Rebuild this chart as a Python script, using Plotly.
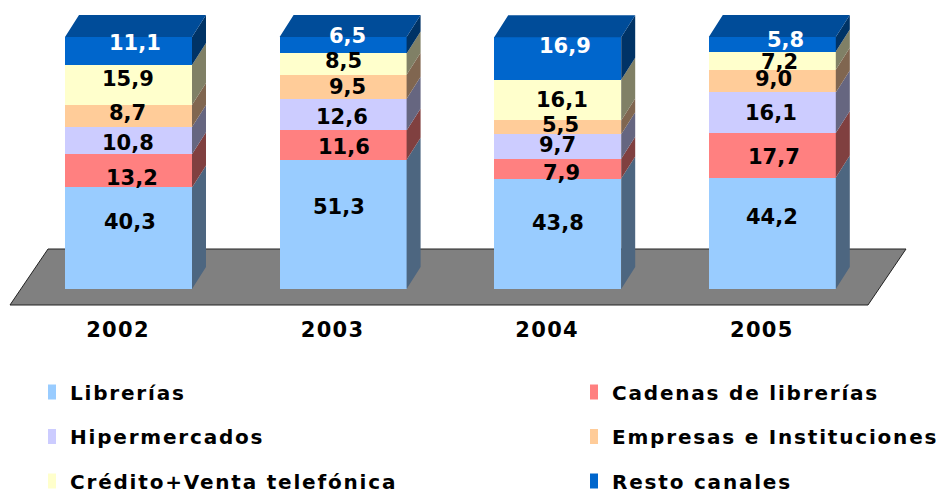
import plotly.graph_objects as go

# ---- data ----
years = ["2002", "2003", "2004", "2005"]
series_names = ["Librerías", "Cadenas de librerías", "Hipermercados",
                "Empresas e Instituciones", "Crédito+Venta telefónica", "Resto canales"]
librerias = [40.3, 51.3, 43.8, 44.2]
cadenas = [13.2, 11.6, 7.9, 17.7]
hipermercados = [10.8, 12.6, 9.7, 16.1]
empresas = [8.7, 9.5, 5.5, 9.0]
credito = [15.9, 8.5, 16.1, 7.2]
resto = [11.1, 6.5, 16.9, 5.8]
all_values = [librerias, cadenas, hipermercados, empresas, credito, resto]

# ---- styles ----
front = ["#99CCFF", "#FF8080", "#CCCCFF", "#FFCC99", "#FFFFCC", "#0066CC"]
side = ["#4D6680", "#804040", "#666680", "#806650", "#808066", "#003366"]
top_color = "#004C99"
label_colors = ["black"] * 5 + ["white"]
FONT = "DejaVu Sans"
TEXT_SIZE = 21
LEGEND_SIZE = 20

# ---- layout geometry (pixels) ----
W, H = 943, 491
PLOT_BOTTOM = 307
BASE_PX = 289
PX_PER_UNIT_Y = 2.52
PX_PER_UNIT_X = 214.6
FIRST_CENTER_PX = 128.5
BAR_W = 127 / PX_PER_UNIT_X
DX = 14 / PX_PER_UNIT_X
DY = 22 / PX_PER_UNIT_Y
TICK_SHIFT = 10.5 / PX_PER_UNIT_X


def px_x(px):
    return (px - FIRST_CENTER_PX) / PX_PER_UNIT_X


def px_y(px):
    return (BASE_PX - px) / PX_PER_UNIT_Y


# hand-placed label nudges in pixels [series][year]
nudge_x = [[1, -4, 0.5, 0], [3.5, 1, 4, 1.5], [-0.5, -1, 0, -1.5],
           [-1.5, 4, 2.5, 1.5], [-0.5, 0, 4, 7], [6.5, 4, 7, 13]]
nudge_y = [[-16, -17, -11, -16], [7, 2, 4, 2], [2, 2, -1.5, 0],
           [-3, 0, -2, -2], [-6, -3, 0, 1], [-8, -9, -12.5, -4]]

xpos = list(range(len(years)))
fig = go.Figure()

legend_of = ["legend", "legend2", "legend", "legend2", "legend", "legend2"]
for k, vals in enumerate(all_values):
    fig.add_trace(go.Bar(x=xpos, y=vals, name=series_names[k], width=BAR_W,
                         marker=dict(color=front[k], line=dict(width=0)),
                         legend=legend_of[k], legendgroup=series_names[k],
                         hoverinfo="name+y"))

# 3D side faces and caps, derived from the stacked values
cum = [0.0] * len(years)
annotations = []
for k, vals in enumerate(all_values):
    sx, sy = [], []
    for i, v in enumerate(vals):
        r = xpos[i] + BAR_W / 2
        lo, hi = cum[i], cum[i] + v
        sx += [r, r + DX, r + DX, r, r, None]
        sy += [lo, lo + DY, hi + DY, hi, lo, None]
        annotations.append(dict(x=xpos[i], y=(lo + hi) / 2, text=f"{v:.1f}".replace(".", ","),
                                showarrow=False, xshift=nudge_x[k][i], yshift=-nudge_y[k][i],
                                font=dict(family=FONT, size=TEXT_SIZE, color=label_colors[k], weight="bold")))
        cum[i] = hi
    fig.add_trace(go.Scatter(x=sx, y=sy, mode="lines", fill="toself", fillcolor=side[k],
                             line=dict(width=0), showlegend=False, hoverinfo="skip"))

tx, ty = [], []
for i in xpos:
    l, r = xpos[i] - BAR_W / 2, xpos[i] + BAR_W / 2
    t = cum[i]
    tx += [l, l + DX, r + DX, r, l, None]
    ty += [t, t + DY, t + DY, t, t, None]
fig.add_trace(go.Scatter(x=tx, y=ty, mode="lines", fill="toself", fillcolor=top_color,
                         line=dict(width=0), showlegend=False, hoverinfo="skip"))

floor_px = [(10, 305), (868, 305), (906, 249), (48, 249)]
path = "M " + " L ".join(f"{px_x(a):.4f},{px_y(b):.4f}" for a, b in floor_px) + " Z"

legend_font = dict(family=FONT, size=LEGEND_SIZE, color="black", weight="bold")


def legend_cfg(px_left):
    return dict(x=px_left / W, xanchor="left", y=(PLOT_BOTTOM - 372.5) / PLOT_BOTTOM, yanchor="top",
                orientation="v", traceorder="grouped", tracegroupgap=15.5,
                font=legend_font, bgcolor="rgba(0,0,0,0)", borderwidth=0)


fig.update_layout(
    width=W, height=H, barmode="stack", bargap=0,
    margin=dict(l=0, r=0, t=0, b=H - PLOT_BOTTOM, pad=0, autoexpand=False),
    paper_bgcolor="white", plot_bgcolor="white",
    xaxis=dict(range=[px_x(0), px_x(W)], tickmode="array",
               tickvals=[p - TICK_SHIFT for p in xpos], ticktext=years,
               showgrid=False, zeroline=False, showline=False, ticks="outside", ticklen=4,
               tickcolor="rgba(0,0,0,0)", fixedrange=True,
               tickfont=dict(family=FONT, size=TEXT_SIZE, color="black", weight="bold")),
    yaxis=dict(range=[px_y(PLOT_BOTTOM), px_y(0)], visible=False, fixedrange=True),
    shapes=[dict(type="path", path=path, xref="x", yref="y", fillcolor="#808080",
                 line=dict(color="#222222", width=1), layer="below")],
    annotations=annotations,
    legend=legend_cfg(30),
    legend2=legend_cfg(572),
    showlegend=True,
)
post = """
var s = document.createElement('style');
s.textContent = 'body{margin:0;overflow:hidden}'
  + '.legendtext,.legend2text{letter-spacing:1.8px}'
  + '.xtick text{letter-spacing:1.3px}';
document.head.appendChild(s);
function fixLegend() {
  document.querySelectorAll('.legendpoints path').forEach(function (p) {
    p.setAttribute('d', 'M6,7.5H-2V-7.5H6Z');
  });
  document.querySelectorAll('.scrollbox').forEach(function (b) {
    b.removeAttribute('clip-path');
  });
}
fixLegend();
setTimeout(fixLegend, 0);
setTimeout(fixLegend, 200);
document.getElementById('{plot_id}').on('plotly_afterplot', fixLegend);
"""
fig.write_html("out.html", post_script=post, config=dict(displayModeBar=False))
